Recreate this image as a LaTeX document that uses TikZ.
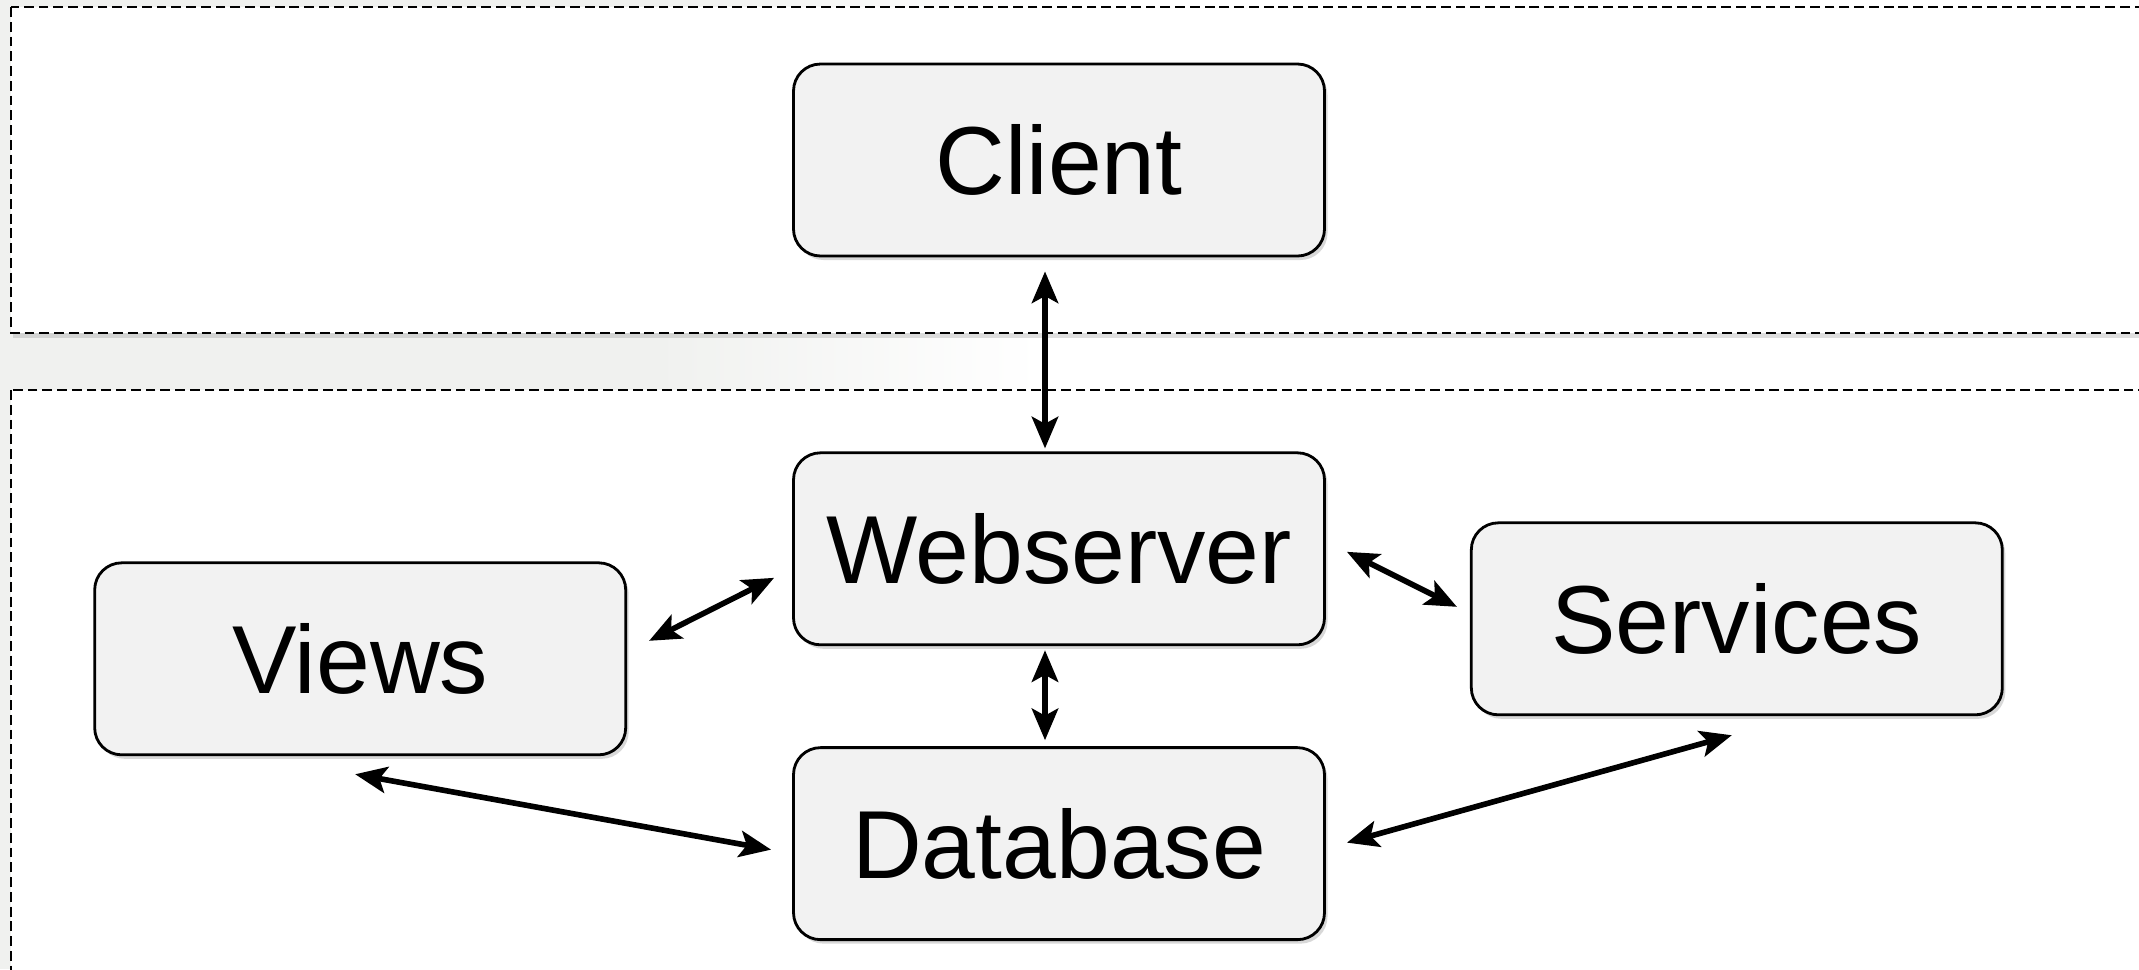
\documentclass[tikz,border=0pt]{standalone}
\usepackage{fontspec}
\setmainfont{Liberation Sans}
\usepackage{color}
\definecolor{slide1}{RGB}{240, 241, 239}
\definecolor{box1}{RGB}{242, 242, 242}
\definecolor{edge1}{RGB}{0, 0, 0}
\usepackage{tikz}
\usetikzlibrary{arrows.meta}
\usetikzlibrary{shadows}
\usetikzlibrary{positioning,shapes,calc}
\tikzstyle{tier} = [draw=edge1, line width=0.6pt, dash pattern=on 2.8pt off 1.4pt, fill=white, drop shadow={shadow xshift=0.02cm, shadow yshift=-0.05cm, opacity=0.25}]
\tikzstyle{component} = [rectangle, rounded corners=0.27cm, fill=box1, draw=edge1, line width=0.8pt, minimum width=5.31cm, minimum height=1.92cm, inner sep=0pt, font=\fontsize{27.5}{33}\selectfont, drop shadow={shadow xshift=0.03cm, shadow yshift=-0.04cm, opacity=0.3}]
\tikzstyle{arrow_link} = [{Stealth[length=9pt,width=7.5pt,inset=2pt]}-{Stealth[length=9pt,width=7.5pt,inset=2pt]}, draw=edge1, line width=1.6pt]

\begin{document}
\begin{tikzpicture}[node distance=2.0cm]

      \useasboundingbox (0,0) rectangle (21.39,-9.69);
      \clip (0,0) rectangle (21.39,-9.69);

      % slide background
      \fill[slide1] (0,0) rectangle (6.55,-9.69);
      \shade[left color=slide1, right color=white] (6.55,0) rectangle (10.4,-9.69);

      \path[tier] (0.11,-0.07) rectangle (22.5,-3.33);
      \path[tier] (0.11,-3.90) rectangle (22.5,-10.5);

      \node[component] (client)    at (10.59,-1.60)                  {Client};
      \node[component] (webserver) [below=1.94cm of client]          {Webserver};
      \node[component] (database)  [below=1.00cm of webserver]       {Database};
      \node[component] (views)     [left=1.65cm of webserver, yshift=-1.10cm]  {Views};
      \node[component] (services)  [right=1.44cm of webserver, yshift=-0.70cm] {Services};

      \draw[arrow_link] ([xshift=-0.14cm, yshift=-0.14cm]client.south) -- ([xshift=-0.14cm, yshift=0.03cm]webserver.north);
      \draw[arrow_link] ([xshift=-0.14cm, yshift=-0.04cm]webserver.south) -- ([xshift=-0.14cm, yshift=0.06cm]database.north);
      \draw[arrow_link] ($(views.east)+(0.22,0.18)$) -- ($(webserver.west)+(-0.18,-0.29)$);
      \draw[arrow_link] ($(webserver.east)+(0.21,-0.03)$) -- ($(services.west)+(-0.13,0.12)$);
      \draw[arrow_link] ($(views.south)+(-0.05,-0.18)$) -- ($(database.west)+(-0.21,-0.06)$);
      \draw[arrow_link] ($(database.east)+(0.21,0.01)$) -- ($(services.south)+(-0.05,-0.19)$);

\end{tikzpicture}
\end{document}
